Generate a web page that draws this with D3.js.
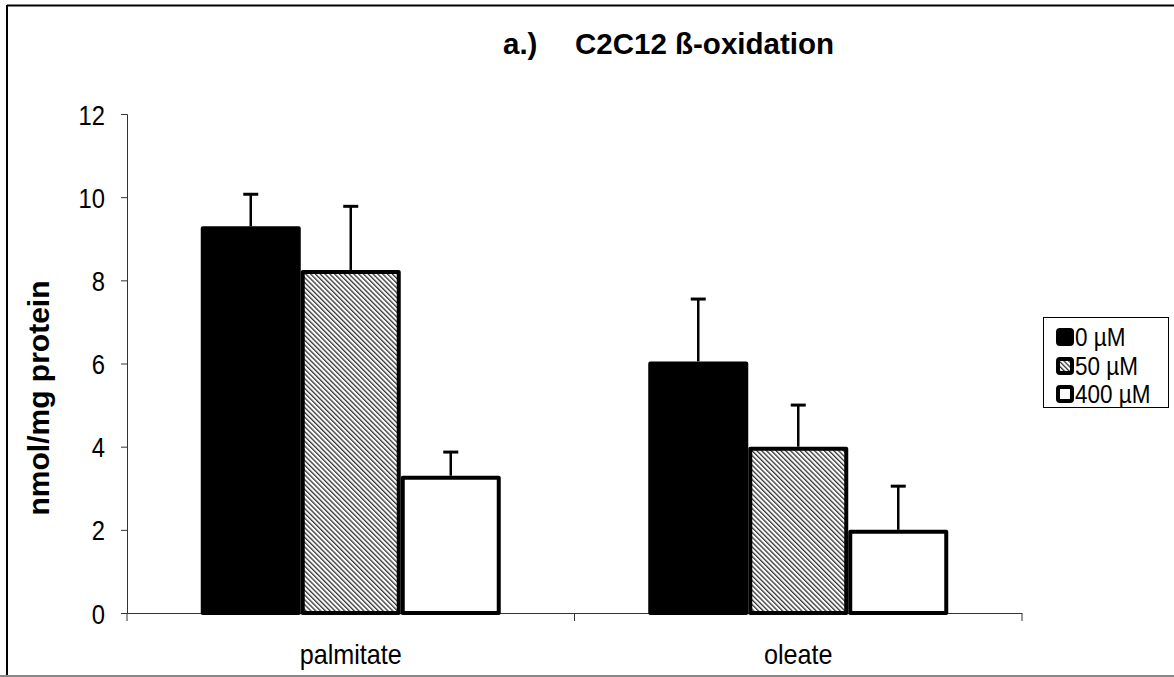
<!DOCTYPE html>
<html>
<head>
<meta charset="utf-8">
<script src="https://cdn.jsdelivr.net/npm/d3@7"></script>
<style>
  html, body { margin: 0; padding: 0; background: #fff; }
  svg { display: block; }
  text { font-family: "Liberation Sans", Arial, sans-serif; fill: #000; }
</style>
</head>
<body>
<svg id="chart" width="1174" height="677"></svg>
<script>
// Fatty acid beta-oxidation in C2C12 cells, by substrate and treatment dose
const categories = ["palmitate", "oleate"];
const seriesNames = ["0 µM", "50 µM", "400 µM"];
const means0 = [9.3, 6.05];
const means50 = [8.25, 4.0];
const means400 = [3.3, 2.0];
const sem0 = [0.77, 1.5];
const sem50 = [1.53, 1.0];
const sem400 = [0.57, 1.05];
const yTicks = [0, 2, 4, 6, 8, 10, 12];

const seriesValues = [means0, means50, means400];
const seriesErrors = [sem0, sem50, sem400];

const svg = d3.select("#chart");

// outer frame
svg.append("line").attr("x1", 7).attr("x2", 1174).attr("y1", 5.5).attr("y2", 5.5)
  .attr("stroke", "#000").attr("stroke-width", 2);
svg.append("line").attr("x1", 7).attr("x2", 7).attr("y1", 5).attr("y2", 676)
  .attr("stroke", "#000").attr("stroke-width", 2);
svg.append("line").attr("x1", 0).attr("x2", 1174).attr("y1", 676).attr("y2", 676)
  .attr("stroke", "#888").attr("stroke-width", 2);

const plot = { left: 127, right: 1022, top: 114, bottom: 613 };

const x0 = d3.scaleBand().domain(categories).range([plot.left, plot.right]).padding(0);
const x1 = d3.scaleBand().domain(seriesNames)
  .range([x0.bandwidth() / 2 - 150, x0.bandwidth() / 2 + 150]).padding(0);
const y = d3.scaleLinear().domain([0, 12]).range([plot.bottom, plot.top]);

// fine diagonal hatch for the 50 µM series
const defs = svg.append("defs");
const pat = defs.append("pattern").attr("id", "hatch")
  .attr("patternUnits", "userSpaceOnUse").attr("width", 3.4).attr("height", 3.4)
  .attr("patternTransform", "rotate(-45)");
pat.append("rect").attr("width", 3.4).attr("height", 3.4).attr("fill", "#fff");
pat.append("rect").attr("x", 0).attr("width", 1.3).attr("height", 3.4).attr("fill", "#333");

const fills = ["#000", "url(#hatch)", "#fff"];

// axes
const yAxis = d3.axisLeft(y).tickValues(yTicks).tickSize(6).tickPadding(16).tickFormat(d3.format("d"));
const gy = svg.append("g").attr("transform", `translate(${plot.left},0)`).call(yAxis);
gy.selectAll(".tick text").each(function () {
  const t = d3.select(this);
  const ty = +t.attr("y") || 0;
  // slightly condensed numerals
  t.attr("x", 0).attr("y", 0).attr("dy", "0.36em")
    .attr("transform", `translate(${-(6 + 16)},${ty}) scale(0.85,1)`)
    .style("font-size", "28px");
});
gy.select(".domain").attr("stroke", "#333");
gy.selectAll(".tick line").attr("stroke", "#333");

const xAxis = d3.axisBottom(x0).tickSize(0).tickPadding(0);
const gx = svg.append("g").attr("transform", `translate(0,${plot.bottom})`).call(xAxis);
gx.select(".domain").remove();
gx.selectAll(".tick text").remove();
gx.append("line").attr("x1", plot.left).attr("x2", plot.right).attr("y1", 0.5).attr("y2", 0.5)
  .attr("stroke", "#333");
// category boundary ticks
const bounds = [plot.left].concat(categories.map(c => x0(c) + x0.bandwidth()));
gx.selectAll("line.bound").data(bounds).join("line").attr("class", "bound")
  .attr("x1", d => d).attr("x2", d => d).attr("y1", 0).attr("y2", 8).attr("stroke", "#333");
gx.selectAll("text.cat").data(categories).join("text").attr("class", "cat")
  .attr("transform", d => `translate(${x0(d) + x0.bandwidth() / 2},51) scale(0.9,1)`)
  .attr("text-anchor", "middle").style("font-size", "28px").text(d => d);

// bars
const groups = svg.append("g").selectAll("g").data(categories).join("g")
  .attr("transform", d => `translate(${x0(d)},0)`);

groups.each(function (cat, ci) {
  const g = d3.select(this);
  seriesNames.forEach((s, si) => {
    const v = seriesValues[si][ci];
    const e = seriesErrors[si][ci];
    const bx = x1(s);
    const cx = bx + x1.bandwidth() / 2;
    g.append("line").attr("x1", cx).attr("x2", cx).attr("y1", y(v)).attr("y2", y(v + e))
      .attr("stroke", "#000").attr("stroke-width", 2.5);
    g.append("line").attr("x1", cx - 7.5).attr("x2", cx + 7.5).attr("y1", y(v + e)).attr("y2", y(v + e))
      .attr("stroke", "#000").attr("stroke-width", 3);
    g.append("rect").attr("x", bx + 2).attr("y", y(v) + 2)
      .attr("width", x1.bandwidth() - 4).attr("height", y(0) - y(v) - 2)
      .attr("fill", fills[si]).attr("stroke", "#000").attr("stroke-width", 4)
      .attr("stroke-linejoin", "round");
  });
});

// title
const title = svg.append("text").attr("y", 54).style("font-size", "29.5px").style("font-weight", "bold");
title.append("tspan").attr("x", 503).text("a.)");
title.append("tspan").attr("x", 575).text("C2C12 ß-oxidation");

// y axis label
svg.append("text").attr("transform", "translate(49,398) rotate(-90)")
  .attr("text-anchor", "middle").style("font-size", "30px").style("font-weight", "bold")
  .text("nmol/mg protein");

// legend
const legend = svg.append("g");
legend.append("rect").attr("x", 1043.5).attr("y", 317.5).attr("width", 125).attr("height", 90)
  .attr("fill", "#fff").attr("stroke", "#000").attr("stroke-width", 1);
const rowY = [346, 375, 403];
seriesNames.forEach((s, i) => {
  legend.append("rect").attr("x", 1058).attr("y", rowY[i] - 16).attr("width", 14).attr("height", 14)
    .attr("rx", 2).attr("fill", fills[i]).attr("stroke", "#000").attr("stroke-width", 4);
  legend.append("text").attr("transform", `translate(1075,${rowY[i]}) scale(0.9,1)`)
    .style("font-size", "25px").text(s);
});
</script>
</body>
</html>
